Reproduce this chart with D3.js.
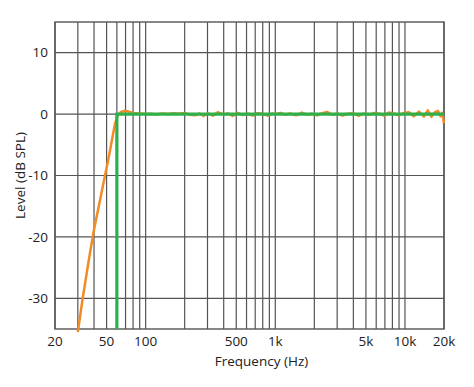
<!DOCTYPE html>
<html>
<head>
<meta charset="utf-8">
<script src="https://cdn.jsdelivr.net/npm/d3@7.9.0/dist/d3.min.js"></script>
<style>
  body { margin: 0; background: #fff; }
  text { font-family: "Open Sans", "Noto Sans", sans-serif; fill: #222; }
</style>
</head>
<body>
<svg id="chart" width="474" height="387"></svg>
<script>
// ---- data ----
const xTickValues = [20, 50, 100, 500, 1000, 5000, 10000, 20000];
const xTickLabels = ['20', '50', '100', '500', '1k', '5k', '10k', '20k'];
const yTickValues = [10, 0, -10, -20, -30];

// measured response (orange)
const measuredFreq = [
  30, 32.7, 36, 39.4, 44, 48.6, 52, 55, 58, 61, 64, 68, 73, 80, 90, 100,
  110, 120, 135, 150, 165, 180, 200, 220, 240, 260, 280, 300, 330, 360, 400,
  430, 470, 510, 560, 610, 670, 730, 800, 870, 950, 1000, 1100, 1200, 1300,
  1450, 1600, 1750, 1900, 2100, 2300, 2500, 2750, 3000, 3300, 3600, 4000,
  4400, 4800, 5300, 5800, 6300, 6900, 7500, 8200, 9000, 9800, 10700, 11700,
  12800, 14000, 15000, 16000, 17000, 18000, 18800, 19400, 20000
];
const measuredLevel = [
  -35.5, -30, -24.5, -19.5, -14.5, -10, -7, -4.2, -1.6, -0.2, 0.3, 0.5, 0.45, 0.2, 0.1, 0,
  0.05, -0.05, 0.1, 0, 0.15, 0.05, 0.2, -0.1, -0.2, 0.1, -0.3, 0.15, -0.25, 0.3, -0.1,
  0.1, -0.3, 0.2, -0.15, 0.1, -0.25, 0.15, 0.05, -0.25, 0.1, 0, 0.2, -0.1, 0.1,
  -0.2, 0.25, -0.1, 0.05, -0.2, 0.15, 0.35, -0.1, 0.1, -0.25, 0.05, 0.15,
  -0.3, 0.1, -0.1, 0.2, 0.05, -0.25, 0.25, 0.1, -0.2, 0.2, 0.3, -0.35,
  0.4, -0.4, 0.6, -0.45, 0.3, 0.5, -0.35, 0.2, -1.5
];

// target curve (green): 60 Hz brick-wall high-pass
const targetFreq = [60, 60, 20000];
const targetLevel = [-35, 0, 0];

// ---- layout ----
const svg = d3.select('#chart');
const plotLeft = 55, plotTop = 22, plotRight = 444, plotBottom = 329;

const x = d3.scaleLog().domain([20, 20000]).range([plotLeft, plotRight]);
const y = d3.scaleLinear().domain([-35, 15]).range([plotBottom, plotTop]);

// vertical grid (every 1..9 x decade)
svg.append('g')
  .selectAll('line')
  .data(x.ticks())
  .join('line')
  .attr('x1', d => x(d)).attr('x2', d => x(d))
  .attr('y1', plotTop).attr('y2', plotBottom)
  .attr('stroke', '#555')
  .attr('stroke-width', 1.2);

// horizontal grid
svg.append('g')
  .selectAll('line')
  .data(yTickValues)
  .join('line')
  .attr('x1', plotLeft).attr('x2', plotRight)
  .attr('y1', d => y(d)).attr('y2', d => y(d))
  .attr('stroke', '#555')
  .attr('stroke-width', 1.2);

// frame
svg.append('rect')
  .attr('x', plotLeft).attr('y', plotTop)
  .attr('width', plotRight - plotLeft).attr('height', plotBottom - plotTop)
  .attr('fill', 'none')
  .attr('stroke', '#555')
  .attr('stroke-width', 1.4);

const line = d3.line()
  .x(d => x(d[0]))
  .y(d => y(d[1]));

svg.append('path')
  .datum(d3.zip(measuredFreq, measuredLevel))
  .attr('d', line)
  .attr('fill', 'none')
  .attr('stroke', '#f28a26')
  .attr('stroke-width', 2.5)
  .attr('stroke-linejoin', 'round');

svg.append('path')
  .datum(d3.zip(targetFreq, targetLevel))
  .attr('d', line)
  .attr('fill', 'none')
  .attr('stroke', '#2eb04b')
  .attr('stroke-width', 3.2);

// tick labels
svg.append('g')
  .selectAll('text')
  .data(xTickValues)
  .join('text')
  .attr('x', d => x(d))
  .attr('y', plotBottom + 17)
  .attr('text-anchor', 'middle')
  .attr('font-size', 13.5)
  .text((d, i) => xTickLabels[i]);

svg.append('g')
  .selectAll('text')
  .data(yTickValues)
  .join('text')
  .attr('x', plotLeft - 7)
  .attr('y', d => y(d))
  .attr('dy', '0.35em')
  .attr('text-anchor', 'end')
  .attr('font-size', 13.5)
  .text(d => d);

// axis titles
svg.append('text')
  .attr('x', (plotLeft + plotRight) / 2 + 12)
  .attr('y', plotBottom + 37)
  .attr('text-anchor', 'middle')
  .attr('font-size', 13.5)
  .text('Frequency (Hz)');

svg.append('text')
  .attr('transform', `translate(20,${(plotTop + plotBottom) / 2}) rotate(-90)`)
  .attr('dy', '0.35em')
  .attr('text-anchor', 'middle')
  .attr('font-size', 13.5)
  .text('Level (dB SPL)');
</script>
</body>
</html>
